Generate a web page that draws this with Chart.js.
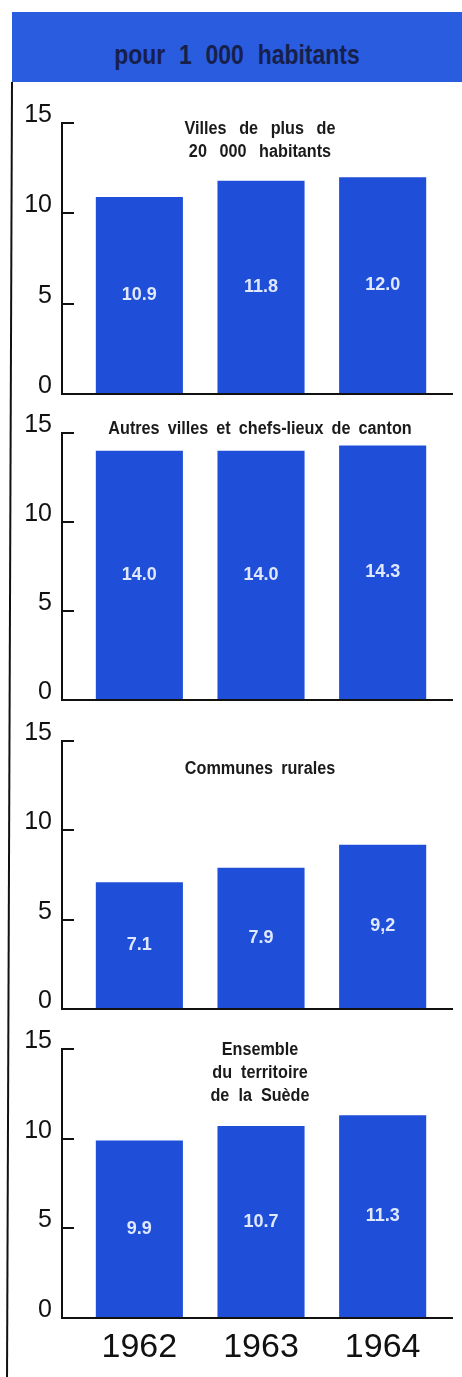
<!DOCTYPE html>
<html lang="fr">
<head>
<meta charset="utf-8">
<title>Natalité pour 1 000 habitants</title>
<script src="https://cdn.jsdelivr.net/npm/chart.js@4.4.1/dist/chart.umd.min.js"></script>
<style>
  html, body { margin: 0; padding: 0; background: #fff; }
  body {
    position: relative; width: 462px; height: 1377px; overflow: hidden;
    font-family: 'Liberation Sans', Arial, sans-serif;
    color: #1a1a1a;
  }
  #bandeau { position: absolute; left: 12px; top: 12px; width: 450px; height: 70px; background: #2a5ce0; }
  #bandeau span {
    position: absolute; left: 0; right: 0; top: 28px; text-align: center;
    font-weight: bold; font-size: 28px; line-height: 30px; color: #17204a; word-spacing: 9px;
    transform: scaleX(0.82); transform-origin: 225px 0;
  }
  #cadre {
    position: absolute; left: 11px; top: 82px; width: 2px; height: 1295px; background: #111;
    transform-origin: top; transform: rotate(0.22deg);
  }
  .panneau { position: absolute; left: 0; width: 462px; }
  .titre {
    position: absolute; left: 60px; width: 400px; text-align: center;
    font-weight: bold; font-size: 18px; line-height: 23px; word-spacing: 4px;
    transform: scaleX(0.9); transform-origin: 200px 0;
  }
</style>
</head>
<body>
<div id="bandeau"><span>pour 1 000 habitants</span></div>
<div id="cadre"></div>

<script>
// Taux pour 1 000 habitants, Suède 1962-1964
const annees = [1962, 1963, 1964];
const villes20000 = [10.9, 11.8, 12.0];
const autresVilles = [14.0, 14.0, 14.3];
const communesRurales = [7.1, 7.9, 9.2];
const ensembleSuede = [9.9, 10.7, 11.3];
const graduations = [0, 5, 10, 15];
// le dernier chiffre des communes rurales est imprimé avec une virgule
const separateursRuraux = ['.', '.', ','];
const separateursPoint = ['.', '.', '.'];

const titres = [
    ['Villes de plus de', '20 000 habitants'],
    ['Autres villes et chefs-lieux de canton'],
    ['Communes rurales'],
    ['Ensemble', 'du territoire', 'de la Suède']
];

// Mise en page : graduation 15 et ligne de base (px), centre de la 1re ligne du titre
const panneaux = [
    { valeurs: villes20000, separateurs: separateursPoint, haut: 123, base: 394, titreY: 128, espaceMots: 9 },
    { valeurs: autresVilles, separateurs: separateursPoint, haut: 433, base: 700, titreY: 428, espaceMots: 4 },
    { valeurs: communesRurales, separateurs: separateursRuraux, haut: 741, base: 1009, titreY: 768, espaceMots: 4 },
    { valeurs: ensembleSuede, separateurs: separateursPoint, haut: 1049, base: 1318, titreY: 1049, espaceMots: 5 }
];

const BLEU = '#1f4fd8';
const NOIR = '#111';
const MARGE_HAUT = 24;
const MARGE_BAS = 4;
const POLICE = "'Liberation Sans', Arial, sans-serif";

// Chiffres écrits au milieu de chaque barre
const etiquettes = {
    id: 'etiquettes',
    afterDatasetsDraw(chart) {
        const ctx = chart.ctx;
        const ds = chart.data.datasets[0];
        const meta = chart.getDatasetMeta(0);
        ctx.save();
        ctx.font = 'bold 18px ' + POLICE;
        ctx.fillStyle = '#dfe8ff';
        ctx.textAlign = 'center';
        ctx.textBaseline = 'middle';
        meta.data.forEach((barre, i) => {
            const texte = ds.data[i].toFixed(1).replace('.', ds.separateurs[i]);
            ctx.fillText(texte, barre.x, (barre.y + barre.base) / 2);
        });
        ctx.restore();
    }
};

function creerPanneau(p, i) {
    const dernier = i === panneaux.length - 1;
    const hautX = dernier ? 52 : 0;

    const boite = document.createElement('div');
    boite.className = 'panneau';
    boite.style.top = (p.haut - MARGE_HAUT) + 'px';
    boite.style.height = (p.base - p.haut + MARGE_HAUT + hautX + MARGE_BAS) + 'px';
    const canvas = document.createElement('canvas');
    boite.appendChild(canvas);
    document.body.appendChild(boite);

    const titre = document.createElement('div');
    titre.className = 'titre';
    titre.style.top = (p.titreY - 11.5) + 'px';
    titre.style.wordSpacing = p.espaceMots + 'px';
    titre.innerHTML = titres[i].join('<br>');
    document.body.appendChild(titre);

    new Chart(canvas, {
        type: 'bar',
        data: {
            labels: annees,
            datasets: [{
                data: p.valeurs,
                separateurs: p.separateurs,
                backgroundColor: BLEU,
                borderWidth: 0,
                categoryPercentage: 0.8,
                barPercentage: 0.895
            }]
        },
        options: {
            animation: false,
            responsive: true,
            maintainAspectRatio: false,
            layout: { padding: { top: MARGE_HAUT, bottom: MARGE_BAS, left: 0, right: 10 } },
            plugins: {
                legend: { display: false },
                tooltip: { enabled: false }
            },
            scales: {
                x: {
                    type: 'linear',
                    min: 1961.364,
                    max: 1964.57,
                    offset: false,
                    afterBuildTicks: s => { s.ticks = annees.map(v => ({ value: v })); },
                    afterFit: s => { s.height = hautX; s.paddingLeft = 0; s.paddingRight = 0; },
                    grid: { display: false, drawTicks: false },
                    border: { display: true, color: NOIR, width: 2 },
                    ticks: {
                        display: dernier,
                        padding: 9,
                        color: NOIR,
                        maxRotation: 0,
                        autoSkip: false,
                        font: { family: POLICE, size: 34 },
                        callback: v => String(v)
                    }
                },
                y: {
                    min: 0,
                    max: 15,
                    afterBuildTicks: s => { s.ticks = graduations.map(v => ({ value: v })); },
                    afterFit: s => { s.width = 62; s.paddingTop = 0; s.paddingBottom = 0; },
                    grid: {
                        display: true,
                        drawOnChartArea: false,
                        drawTicks: true,
                        tickLength: -12,
                        color: NOIR,
                        lineWidth: 2
                    },
                    border: { display: true, color: NOIR, width: 2 },
                    ticks: {
                        padding: 22,
                        labelOffset: -8,
                        color: NOIR,
                        font: { family: POLICE, size: 25 },
                        callback: v => String(v)
                    }
                }
            }
        },
        plugins: [etiquettes]
    });
}

panneaux.forEach(creerPanneau);
</script>
</body>
</html>
